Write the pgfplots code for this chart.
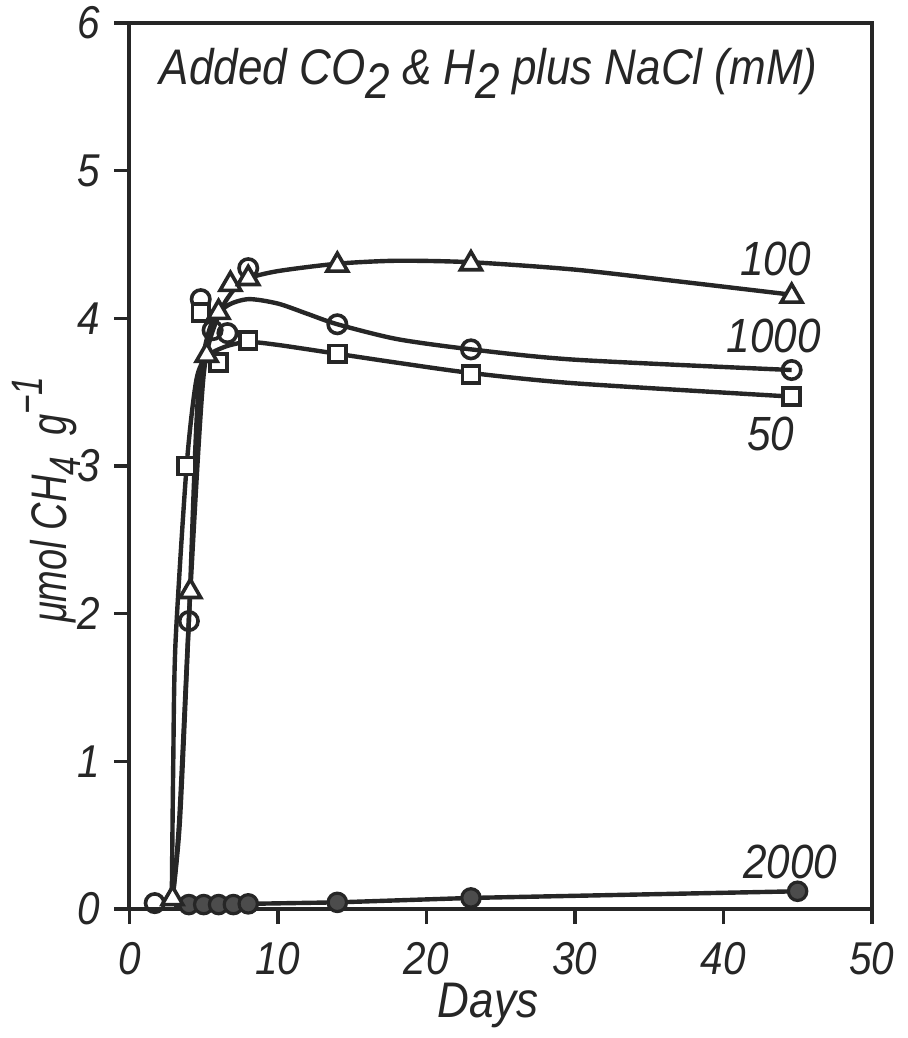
\documentclass[border=0pt]{standalone}
\usepackage{pgfplots}
\pgfplotsset{compat=1.18}
\usepackage{fontspec}
\setmainfont{Liberation Sans}[FakeStretch=0.88]
\newfontfamily\narrowfont{Liberation Sans}[FakeStretch=0.76]
\newcommand{\sub}[1]{\raisebox{-0.55ex}{#1}}
\newcommand{\sups}[1]{\raisebox{0.9ex}{#1}}
\begin{document}
\begin{tikzpicture}
\begin{axis}[
  scale only axis, width=185.6pt, height=221.5pt,
  xmin=0, xmax=50, ymin=0, ymax=6,
  xtick={0,10,20,30,40,50}, ytick={0,1,2,3,4,5,6},
  tick align=outside, major tick length=3.75pt, tick pos=left,
  axis line style={line width=1pt, black!85},
  every tick/.style={line width=0.9pt, black!85},
  /pgf/number format/assume math mode=true,
  tick label style={font=\fontsize{11.5}{13}\selectfont\itshape, black!85},
  xticklabel style={yshift=-1pt},
  xlabel={Days},
  ylabel={μmol CH\sub{\fontsize{11}{12}\selectfont 4}\ \ g\sups{\fontsize{11}{12}\selectfont −1}},
  xlabel style={font=\fontsize{12.5}{14}\selectfont\itshape, black!85, at={(rel axis cs:0.483,-0.109)}, anchor=center},
  ylabel style={font=\narrowfont\fontsize{12.5}{14}\selectfont\itshape, black!85, at={(rel axis cs:-0.112,0.462)}, anchor=center, rotate=0},
  clip=false,
]
% fitted curves
\addplot[line width=1.1pt, black!85, smooth, tension=0.45] coordinates {
 (2.9,0.07) (3.35,0.6) (4.1,2.15) (5.0,3.62) (6.0,4.02) (7,4.19) (8,4.27) (10,4.32) (14,4.37) (18,4.39) (23,4.38) (30,4.33) (37,4.25) (44.6,4.16)};
\addplot[line width=1.1pt, black!85, smooth, tension=0.45] coordinates {
 (2.9,0.07) (3.4,0.6) (4.0,1.95) (4.6,3.45) (5.4,3.93) (6.5,4.08) (8,4.13) (10,4.10) (12,4.03) (14,3.96) (18,3.86) (23,3.79) (30,3.72) (44.6,3.65)};
\addplot[line width=1.1pt, black!85, smooth, tension=0.45] coordinates {
 (2.85,0.07) (2.95,1.0) (3.1,1.8) (3.85,3.0) (4.5,3.58) (5.2,3.74) (6.5,3.81) (8,3.84) (10,3.82) (14,3.76) (18,3.70) (23,3.63) (30,3.56) (44.6,3.47)};
\addplot[line width=1.1pt, black!85] coordinates {
 (3,0.03) (4,0.03) (5,0.03) (6,0.03) (7,0.03) (8,0.035) (14,0.045) (23,0.075) (45,0.12)};
% markers: 2000 mM (filled circles)
\addplot[only marks, mark=*, mark size=2.3pt, mark options={fill=black!70, draw=black!85, line width=0.8pt}] coordinates {
 (4,0.03) (5,0.03) (6,0.03) (7,0.03) (8,0.035) (14,0.045) (23,0.075) (45,0.12)};
% 1000 mM (open circles)
\addplot[only marks, mark=o, mark size=2.3pt, mark options={fill=white, draw=black!85, line width=0.9pt}] coordinates {
 (1.7,0.04) (4.0,1.95) (4.8,4.13) (5.6,3.92) (6.6,3.90) (8,4.34) (14,3.96) (23,3.79) (44.6,3.65)};
% 50 mM (open squares)
\addplot[only marks, mark=square*, mark size=2.1pt, mark options={fill=white, draw=black!85, line width=0.9pt}] coordinates {
 (3.85,3.0) (4.8,4.04) (6.0,3.70) (8,3.85) (14,3.76) (23,3.62) (44.6,3.47)};
% 100 mM (open triangles)
\addplot[only marks, mark=triangle*, mark size=3.0pt, mark options={fill=white, draw=black!85, line width=0.9pt}] coordinates {
 (2.9,0.07) (4.1,2.15) (5.2,3.75) (6.0,4.04) (6.8,4.23) (8,4.27) (14,4.36) (23,4.37) (44.6,4.15)};
% curve labels and title
\begin{scope}[every node/.style={font=\fontsize{12}{14}\selectfont\itshape, text=black!85}]
\node at (axis cs:43.5,4.40) {100};
\node at (axis cs:43.4,3.88) {1000};
\node at (axis cs:43.2,3.22) {50};
\node at (axis cs:44.5,0.32) {2000};
\node[font=\fontsize{12.5}{14}\selectfont\itshape] at (axis cs:24.2,5.66) {Added CO\sub{2} \& H\sub{2} plus NaCl (mM)};
\end{scope}
\coordinate (bbl) at (rel axis cs:-0.1744,-0.1456);
\coordinate (btr) at (rel axis cs:1.0485,1.026);
\end{axis}
\pgfresetboundingbox
\useasboundingbox (bbl) rectangle (btr);
\end{tikzpicture}
\end{document}
